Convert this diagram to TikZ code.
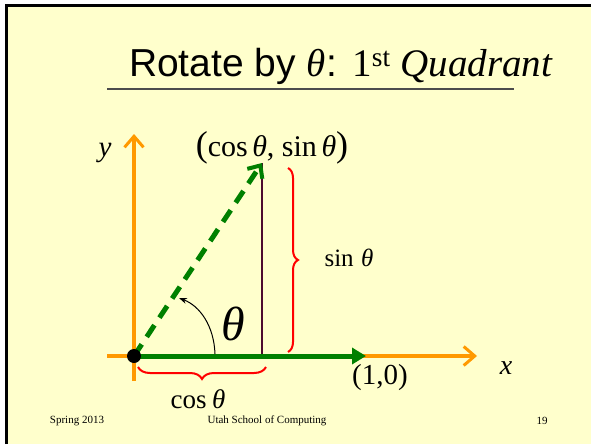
\documentclass[tikz,border=0pt]{standalone}
\usepackage{fontspec}
\setmainfont{Liberation Serif}
\newfontfamily\titlefont{Liberation Sans}
\usetikzlibrary{decorations.pathreplacing, arrows.meta, positioning}

\definecolor{slideyellow}{HTML}{FFFFCC}
\definecolor{axisorange}{HTML}{FF9900}
\definecolor{vecgreen}{HTML}{008000}
\definecolor{bracered}{HTML}{FF0000}
\definecolor{legmaroon}{HTML}{4D0A2E}

\newcommand{\fs}[1]{\fontsize{#1}{#1}\selectfont}

\begin{document}
\begin{tikzpicture}[x=1pt,y=-1pt,
  axis/.style={axisorange, line width=4pt, -{Straight Barb[length=11pt,width=19pt,line width=3pt]}},
  vec/.style={vecgreen, line width=5pt},
  brace/.style={bracered, line width=2pt, decorate},
  lbl/.style={inner sep=0pt, anchor=center}]
\useasboundingbox (0,0) rectangle (591,444);
\fill [slideyellow] (6,6) rectangle (591,444);
\draw [black, line width=3pt] (6,444) -- (6,6) -- (591,6);

% title
\node [anchor=base, inner sep=0pt] (title) at (341,76)
  {\fs{39}{\titlefont Rotate by }\textit{θ}{\titlefont :}\hspace{0.4em}1\textsuperscript{st} \textit{Quadrant}};
\coordinate (ruleL) at (107,89);
\coordinate (ruleR) at (514,89);
\draw [black!70, line width=1.5pt] (ruleL) -- (ruleR);

% axes
\coordinate (o) at (134,356);
\coordinate (xneg) at (107,356);
\coordinate (xend) at (477,356);
\coordinate (yneg) at (134,381);
\coordinate (yend) at (134,134);
\draw [axis] (xneg) -- (xend);
\draw [axis] (yneg) -- (yend);
\node [lbl, font=\fs{29}\itshape] (ylab) at (105,153) {y};
\node [lbl, font=\fs{28}\itshape] (xlab) at (506,368) {x};

% vectors
\coordinate (p) at (262,163);
\coordinate (pfoot) at (262,356);
\coordinate (e1) at (366,356);
\draw [legmaroon, line width=1.5pt] (p) -- (pfoot);
\draw [vec, -{Triangle[length=14pt,width=16pt]}] (o) -- (e1);
\draw [vec, dash pattern=on 14pt off 9pt, -{Straight Barb[length=10pt,width=18pt,line width=4pt]}] (o) -- (p);
\fill [black] (o) circle (7);

% angle
\coordinate (arcA) at (215,354);
\coordinate (arcB) at (179,298);
\draw [black, line width=1pt, -{Stealth[length=8pt,width=6pt]}] (arcA) .. controls (214,326) and (200,306) .. (arcB);
\node [lbl, font=\fs{48}] (theta) at (233,324) {\textit{θ}};

% braces
\coordinate (sinTop) at (288,168);
\coordinate (sinBot) at (288,352);
\draw [brace, decoration={brace, amplitude=10pt}] (sinTop) -- (sinBot);
\coordinate (cosR) at (266,367);
\coordinate (cosL) at (138,367);
\draw [brace, decoration={brace, amplitude=12pt}] (cosR) -- (cosL);

% labels
\node [lbl, font=\fs{30}] (plab) at (272,148) {{\fs{36}(}cos\hspace{0.15em}\textit{θ}, sin\hspace{0.15em}\textit{θ}{\fs{36})}};
\node [lbl, font=\fs{25}] (sinlab) at (349,258) {sin\hspace{0.3em}\textit{θ}};
\node [lbl, font=\fs{27}] (coslab) at (198,399) {cos\hspace{0.2em}\textit{θ}};
\node [lbl, font=\fs{29}] (onelab) at (380,378) {(1,0)};

% footer
\node [lbl, font=\fs{11}] (date) at (77,421) {Spring 2013};
\node [lbl, font=\fs{11}] (school) at (267,421) {Utah School of Computing};
\node [lbl, font=\fs{11}] (page) at (542,421) {19};
\end{tikzpicture}
\end{document}
